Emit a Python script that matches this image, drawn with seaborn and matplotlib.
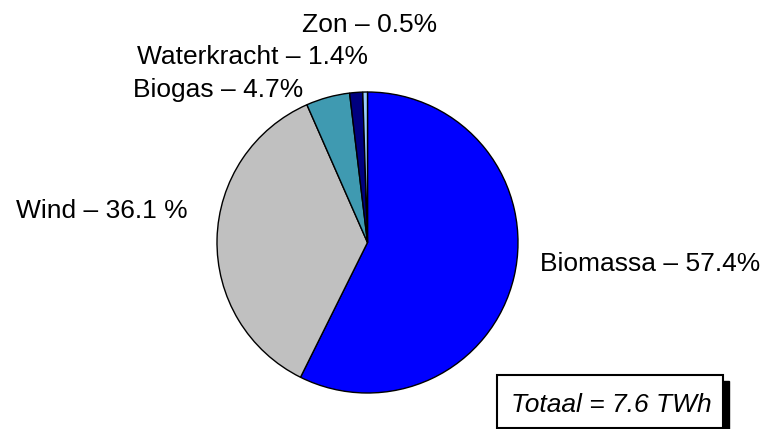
import matplotlib
matplotlib.use("Agg")
import matplotlib.pyplot as plt
import seaborn as sns
from matplotlib.patches import Rectangle

sns.set_theme(style="white")
plt.rcParams['font.family'] = ['Liberation Sans', 'DejaVu Sans']

categories = ["Biomassa", "Wind", "Biogas", "Waterkracht", "Zon"]
shares = [57.4, 36.1, 4.7, 1.4, 0.5]
labels = ["Biomassa – 57.4%", "Wind – 36.1 %", "Biogas – 4.7%",
          "Waterkracht – 1.4%", "Zon – 0.5%"]
colors = ["#0000FF", "#C0C0C0", "#3F9AB1", "#000080", "#99CCFF"]
total_text = "Totaal = 7.6 TWh"

W, H = 762, 429
fig = plt.figure(figsize=(W / 100, H / 100), dpi=100)
ax = fig.add_axes([0, 0, 1, 1])
ax.set_xlim(0, W)
ax.set_ylim(0, H)
ax.set_aspect('equal')
ax.axis('off')

cx, cy, r = 367.5, H - 242.5, 150.5
ax.pie(shares, colors=colors, startangle=90, counterclock=False,
       center=(cx, cy), radius=r, frame=True,
       wedgeprops=dict(edgecolor="black", linewidth=1.0))
ax.set_xlim(0, W)
ax.set_ylim(0, H)
ax.axis('off')

# label positions (left x, baseline y from top) in pixels
label_pos = {
    "Biomassa": (540, 271),
    "Wind": (16, 218),
    "Biogas": (133, 97),
    "Waterkracht": (137, 64),
    "Zon": (302, 32),
}
fs = 19
for cat, lab in zip(categories, labels):
    x, yb = label_pos[cat]
    ax.text(x, H - yb, lab, fontsize=fs, ha='left', va='baseline', color='black')

# Total box with shadow
bx0, by0, bx1, by1 = 497, 375, 723, 428
ax.add_patch(Rectangle((bx0 + 6, H - by1 - 6), bx1 - bx0, by1 - by0,
                       facecolor='black', edgecolor='black', zorder=3))
ax.add_patch(Rectangle((bx0, H - by1), bx1 - bx0, by1 - by0,
                       facecolor='white', edgecolor='black', linewidth=1.5, zorder=4))
ax.text(511, H - 412, total_text, fontsize=fs, style='italic',
        ha='left', va='baseline', color='black', zorder=5)

fig.savefig("out.png", dpi=100)
